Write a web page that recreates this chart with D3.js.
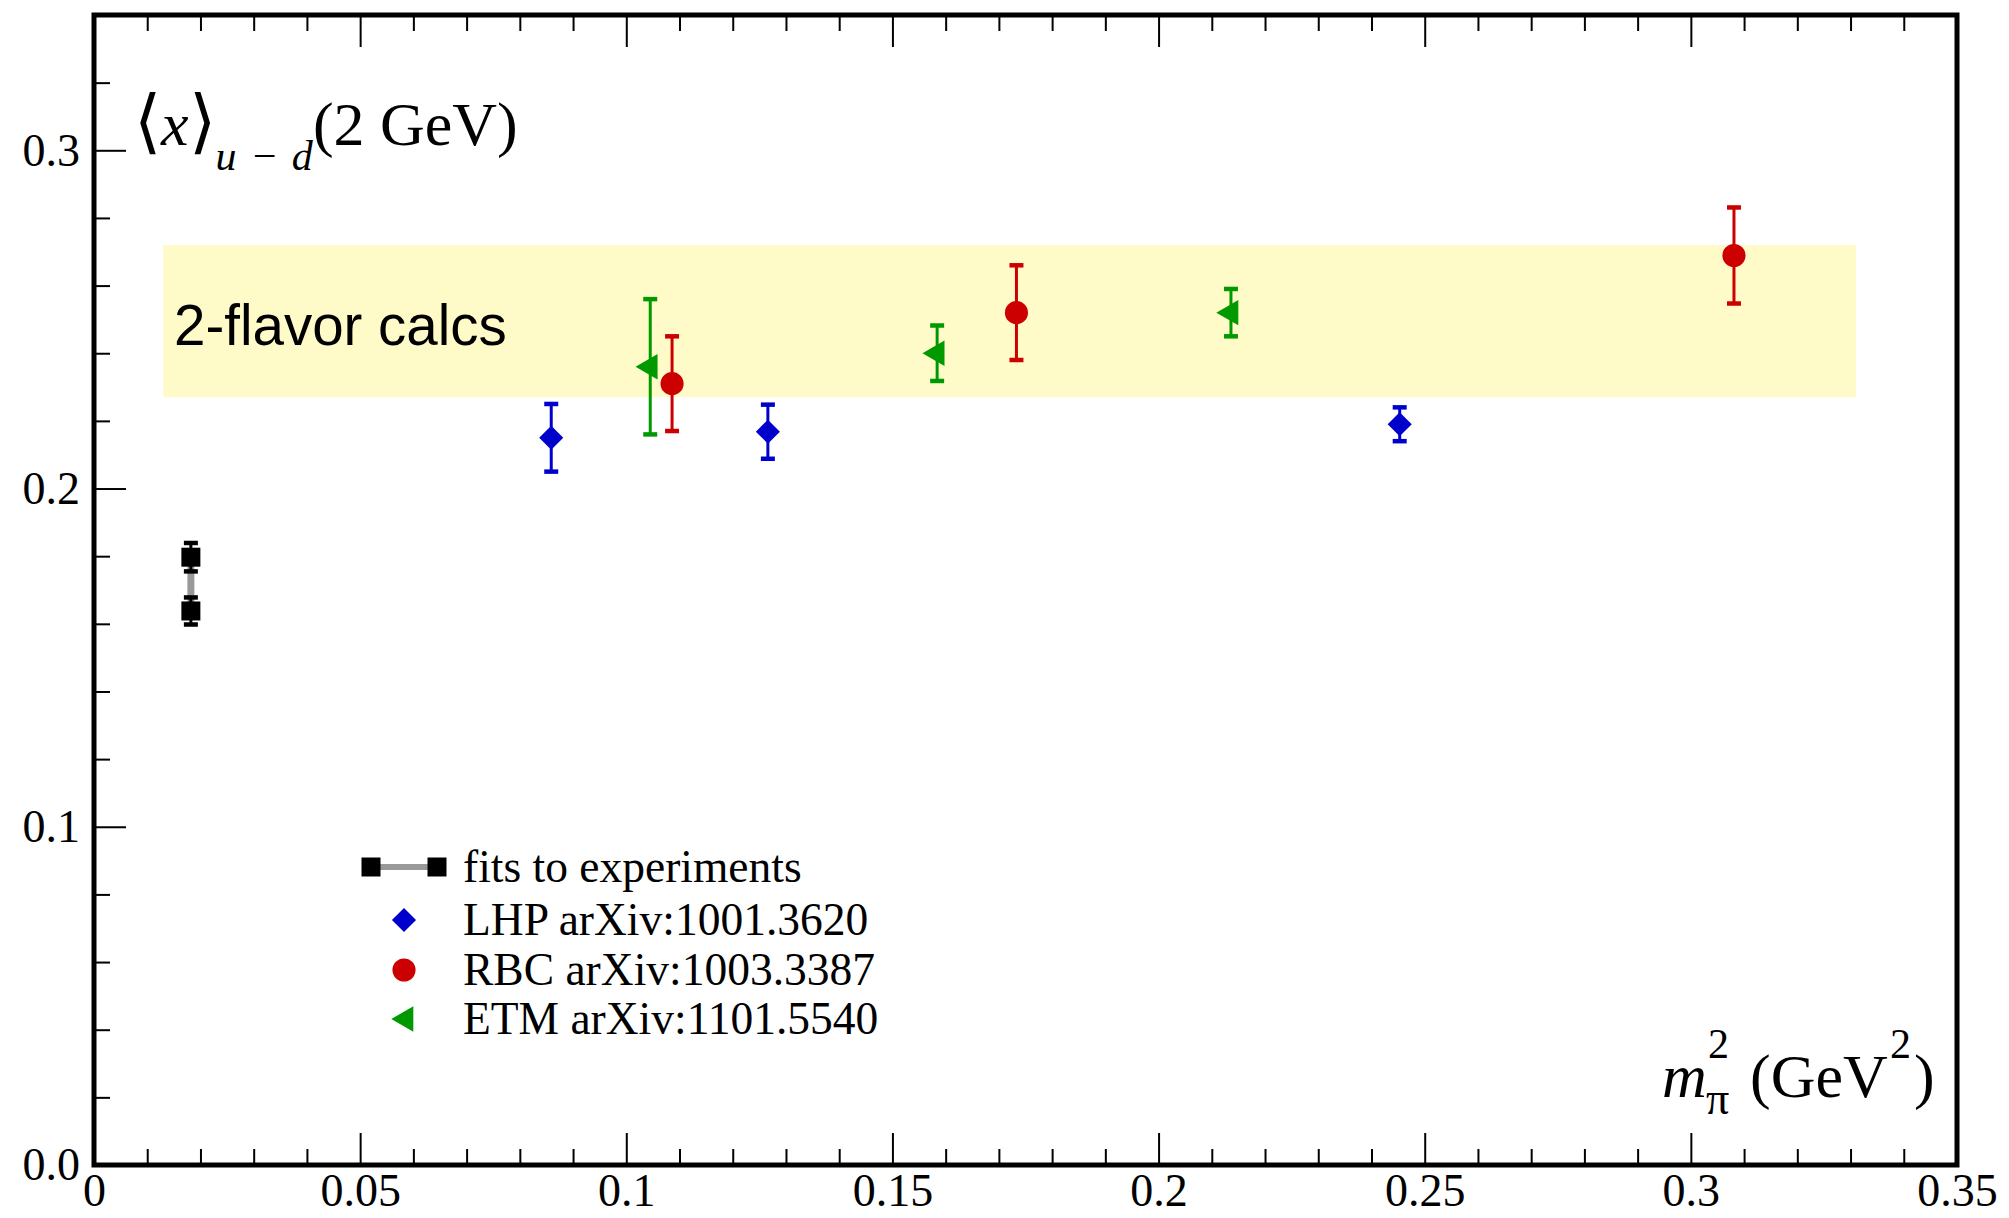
<html>
<head>
<meta charset="utf-8">
<style>
  body { margin: 0; background: #fff; }
  svg { display: block; }
  .tick line { stroke: #000; stroke-width: 2; }
</style>
<script src="https://cdn.jsdelivr.net/npm/d3@7"></script>
</head>
<body>
<svg id="chart" width="2009" height="1218"></svg>
<script>
// axis ticks
const xMajor = [0, 0.05, 0.1, 0.15, 0.2, 0.25, 0.3, 0.35]
const xTickLabels = ["0", "0.05", "0.1", "0.15", "0.2", "0.25", "0.3", "0.35"]
const yMajor = [0, 0.1, 0.2, 0.3]
const yTickLabels = ["0.0", "0.1", "0.2", "0.3"]

// fits to experiments (physical point)
const expX = [0.0182, 0.0182]
const expY = [0.1797, 0.1638]
const expErr = [0.0042, 0.0040]

// LHP arXiv:1001.3620
const lhpX = [0.0859, 0.1266, 0.2453]
const lhpY = [0.2150, 0.2168, 0.2190]
const lhpErr = [0.0100, 0.0080, 0.0050]

// RBC arXiv:1003.3387
const rbcX = [0.1086, 0.1733, 0.3081]
const rbcY = [0.2310, 0.2520, 0.2689]
const rbcErr = [0.0140, 0.0140, 0.0142]

// ETM arXiv:1101.5540
const etmX = [0.1045, 0.1584, 0.2136]
const etmY = [0.2360, 0.2400, 0.2520]
const etmErr = [0.0200, 0.0082, 0.0070]

// 2-flavor band
const bandX = [0.013, 0.331]
const bandY = [0.227, 0.272]

const legendLabels = ["fits to experiments", "LHP arXiv:1001.3620", "RBC arXiv:1003.3387", "ETM arXiv:1101.5540"]

const serif = "'Liberation Serif', 'Times New Roman', serif"
let svg = d3.select("#chart")

let x = d3.scaleLinear().domain([0, 0.35]).range([94, 1957])
let y = d3.scaleLinear().domain([0, 0.34]).range([1165, 15])

// yellow band + its label
svg.append("rect")
    .attr("x", x(bandX[0])).attr("y", y(bandY[1]))
    .attr("width", x(bandX[1]) - x(bandX[0]))
    .attr("height", y(bandY[0]) - y(bandY[1]))
    .attr("fill", "#fffbc9")

svg.append("text")
    .attr("x", 174).attr("y", 345)
    .attr("font-family", "'Liberation Sans', Arial, sans-serif")
    .attr("font-size", 56.5)
    .text("2-flavor calcs")

// axes (ticks point inward)
function styleAxis(g){
    g.select(".domain").remove()
    g.attr("font-family", serif).attr("font-size", 46)
    g.selectAll("text").attr("fill", "#000")
}
let xMinor = d3.range(0, 0.3501, 0.01).filter(v => xMajor.every(m => Math.abs(m - v) > 1e-6))
let yMinor = d3.range(0, 0.3401, 0.02).filter(v => yMajor.every(m => Math.abs(m - v) > 1e-6))

svg.append("g").attr("transform", "translate(0,1165)")
    .call(d3.axisBottom(x).tickValues(xMajor).tickFormat((d, i) => xTickLabels[i])
        .tickSizeInner(-32).tickSizeOuter(0).tickPadding(8))
    .call(styleAxis)
svg.append("g").attr("transform", "translate(0,1165)")
    .call(d3.axisBottom(x).tickValues(xMinor).tickFormat("").tickSizeInner(-16).tickSizeOuter(0))
    .call(styleAxis)
svg.append("g").attr("transform", "translate(0,15)")
    .call(d3.axisTop(x).tickValues(xMajor).tickFormat("").tickSizeInner(-32).tickSizeOuter(0))
    .call(styleAxis)
svg.append("g").attr("transform", "translate(0,15)")
    .call(d3.axisTop(x).tickValues(xMinor).tickFormat("").tickSizeInner(-16).tickSizeOuter(0))
    .call(styleAxis)
svg.append("g").attr("transform", "translate(94,0)")
    .call(d3.axisLeft(y).tickValues(yMajor).tickFormat((d, i) => yTickLabels[i])
        .tickSizeInner(-32).tickSizeOuter(0).tickPadding(14))
    .call(styleAxis)
svg.append("g").attr("transform", "translate(94,0)")
    .call(d3.axisLeft(y).tickValues(yMinor).tickFormat("").tickSizeInner(-16).tickSizeOuter(0))
    .call(styleAxis)

// frame
svg.append("rect")
    .attr("x", x(0)).attr("y", y(0.34))
    .attr("width", x(0.35) - x(0)).attr("height", y(0) - y(0.34))
    .attr("fill", "none").attr("stroke", "#000").attr("stroke-width", 5)

// data helpers
function errorBars(xs, ys, es, color, capW, w){
    let pts = xs.map((v, i) => ({x: v, y: ys[i], e: es[i]}))
    let g = svg.append("g").attr("stroke", color)
    g.selectAll(".bar").data(pts).join("line")
        .attr("x1", d => x(d.x)).attr("x2", d => x(d.x))
        .attr("y1", d => y(d.y - d.e)).attr("y2", d => y(d.y + d.e))
        .attr("stroke-width", w)
    g.selectAll(".capT").data(pts).join("line")
        .attr("x1", d => x(d.x) - capW / 2).attr("x2", d => x(d.x) + capW / 2)
        .attr("y1", d => y(d.y + d.e)).attr("y2", d => y(d.y + d.e))
        .attr("stroke-width", 4.5)
    g.selectAll(".capB").data(pts).join("line")
        .attr("x1", d => x(d.x) - capW / 2).attr("x2", d => x(d.x) + capW / 2)
        .attr("y1", d => y(d.y - d.e)).attr("y2", d => y(d.y - d.e))
        .attr("stroke-width", 4.5)
}
function markers(xs, ys, type, size, color, rot){
    svg.append("g").selectAll("path").data(xs.map((v, i) => [v, ys[i]])).join("path")
        .attr("d", d3.symbol().type(type).size(size))
        .attr("transform", d => "translate(" + x(d[0]) + "," + y(d[1]) + ") rotate(" + rot + ")")
        .attr("fill", color)
}

// experiments: grey connector, bars, squares
svg.append("path")
    .datum(expX.map((v, i) => [v, expY[i]]))
    .attr("d", d3.line().x(d => x(d[0])).y(d => y(d[1])))
    .attr("stroke", "#999").attr("stroke-width", 7).attr("fill", "none")
errorBars(expX, expY, expErr, "#000", 14, 3)
markers(expX, expY, d3.symbolSquare, 361, "#000", 0)

errorBars(lhpX, lhpY, lhpErr, "#0000cc", 14, 3)
markers(lhpX, lhpY, d3.symbolSquare, 290, "#0000cc", 45)

errorBars(rbcX, rbcY, rbcErr, "#cc0000", 14, 3)
markers(rbcX, rbcY, d3.symbolCircle, 420, "#cc0000", 0)

errorBars(etmX, etmY, etmErr, "#009900", 14, 3)
markers(etmX, etmY, d3.symbolTriangle, 280, "#009900", -90)

// axis titles
let yt = svg.append("text").attr("font-family", serif).attr("font-size", 62).attr("x", 134).attr("y", 145)
yt.append("tspan").attr("font-size", 70).text("\u27E8")
yt.append("tspan").attr("font-style", "italic").text("x")
yt.append("tspan").attr("font-size", 70).text("\u27E9")
yt.append("tspan").attr("font-style", "italic").attr("font-size", 42).attr("dy", 25)
    .attr("word-spacing", 3).text("u \u2212 d")
yt.append("tspan").attr("dy", -25).text("(2 GeV)")

let xt = svg.append("text").attr("font-family", serif).attr("font-size", 62)
xt.append("tspan").attr("x", 1662).attr("y", 1097).attr("font-style", "italic").text("m")
xt.append("tspan").attr("x", 1706).attr("y", 1114).attr("font-size", 46).text("\u03C0")
xt.append("tspan").attr("x", 1708).attr("y", 1058).attr("font-size", 42).text("2")
xt.append("tspan").attr("x", 1750).attr("y", 1097).text("(GeV")
xt.append("tspan").attr("x", 1890).attr("y", 1058).attr("font-size", 42).text("2")
xt.append("tspan").attr("x", 1914).attr("y", 1097).text(")")

// legend
let legY = [867, 920, 970, 1019]
let leg = svg.append("g")
leg.append("line").attr("x1", 371).attr("x2", 437).attr("y1", legY[0]).attr("y2", legY[0])
    .attr("stroke", "#999").attr("stroke-width", 6)
leg.selectAll(".sq").data([371, 437]).join("path")
    .attr("d", d3.symbol().type(d3.symbolSquare).size(361))
    .attr("transform", d => "translate(" + d + "," + legY[0] + ")")
leg.append("path").attr("d", d3.symbol().type(d3.symbolSquare).size(290))
    .attr("transform", "translate(404," + legY[1] + ") rotate(45)").attr("fill", "#0000cc")
leg.append("path").attr("d", d3.symbol().type(d3.symbolCircle).size(420))
    .attr("transform", "translate(404," + legY[2] + ")").attr("fill", "#cc0000")
leg.append("path").attr("d", d3.symbol().type(d3.symbolTriangle).size(280))
    .attr("transform", "translate(406," + legY[3] + ") rotate(-90)").attr("fill", "#009900")
leg.selectAll("text").data(legendLabels).join("text")
    .attr("x", 463).attr("y", (d, i) => legY[i]).attr("dy", "0.33em")
    .attr("font-family", serif).attr("font-size", 45.5)
    .text(d => d)
</script>
</body>
</html>
